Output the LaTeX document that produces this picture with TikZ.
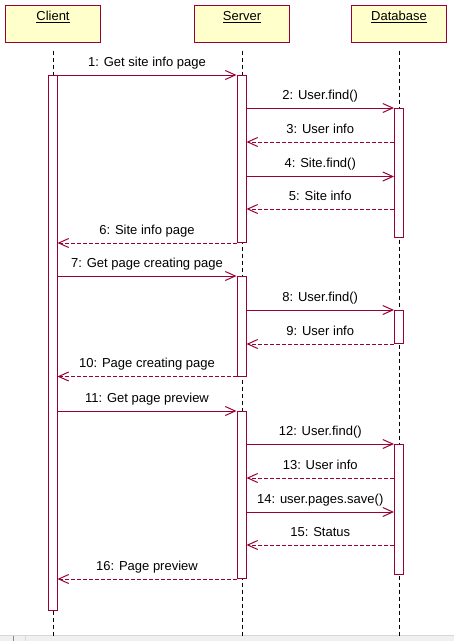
\documentclass[tikz,border=0pt]{standalone}
\usepackage{fontspec}
\setmainfont{Liberation Sans}
\usetikzlibrary{arrows.meta}
\definecolor{umlred}{RGB}{153,0,51}
\definecolor{umlfill}{RGB}{255,255,204}
\definecolor{barfill}{RGB}{240,240,240}
\definecolor{barline}{RGB}{215,215,215}
\begin{document}
\begin{tikzpicture}[x=1pt,y=-1pt,
  font=\fontsize{13}{15}\selectfont,
  objbox/.style={draw=umlred, fill=umlfill, line width=1pt, minimum width=95pt, minimum height=37pt, inner sep=0pt},
  act/.style={draw=umlred, fill=white, line width=1pt, minimum width=9pt, inner sep=0pt},
  life/.style={black, line width=1pt, dash pattern=on 4pt off 3pt},
  call/.style={umlred, line width=1pt, -{Straight Barb[length=10pt,width=9pt]}},
  reply/.style={call, dash pattern=on 4pt off 2pt},
  lbl/.style={anchor=base, inner sep=0pt, text=black, yshift=9pt},
  hdr/.style={anchor=base, inner sep=0pt, text=black},
]
\useasboundingbox (0,0) rectangle (454,641);
\fill[white] (0,0) rectangle (454,641);

% scrollbar strip at the bottom
\fill[barfill] (0,635) rectangle (454,641);
\draw[barline, line width=1pt] (0,635.5) -- (454,635.5);
\fill[black!45] (12.5,636) rectangle (13.5,641);
\fill[black!6] (14,636) rectangle (25,641);
\draw[barline, line width=1pt] (25.5,636) -- (25.5,641);

% objects
\node[objbox] (client) at (52.75,23.5) {};
\node[objbox] (server) at (242,23.5) {};
\node[objbox] (db) at (399,23.5) {};
\node[hdr] (clientlbl) at (53,20.5) {\underline{Client}};
\node[hdr] (serverlbl) at (242,20.5) {\underline{Server}};
\node[hdr] (dblbl) at (399,20.5) {\underline{Database}};

% lifelines
\coordinate (clientend) at (53,636);
\coordinate (serverend) at (242,636);
\coordinate (dbend) at (399,636);
\draw[life] ([yshift=-8pt]client.south -| clientend) -- (clientend);
\draw[life] ([yshift=-8pt]server.south) -- (serverend);
\draw[life] ([yshift=-8pt]db.south) -- (dbend);

% activations
\node[act, minimum height=535pt] (ca) at (52.5,342.5) {};
\node[act, minimum height=167pt] (sa1) at (241.5,158.5) {};
\node[act, minimum height=100pt] (sa2) at (241.5,326) {};
\node[act, minimum height=167pt] (sa3) at (241.5,494.5) {};
\node[act, minimum height=129pt] (da1) at (399,172.5) {};
\node[act, minimum height=33pt] (da2) at (399,326.5) {};
\node[act, minimum height=130pt] (da3) at (399,509) {};

% messages
\draw[call] (ca.east |- 0,75) -- (sa1.west |- 0,75) node[lbl, midway] (m1) {1: Get site info page};
\draw[call] (sa1.east |- 0,108) -- (da1.west |- 0,108) node[lbl, midway] (m2) {2: User.find()};
\draw[reply] (da1.west |- 0,142) -- (sa1.east |- 0,142) node[lbl, midway] (m3) {3: User info};
\draw[call] (sa1.east |- 0,176.5) -- (da1.west |- 0,176.5) node[lbl, midway] (m4) {4: Site.find()};
\draw[reply] (da1.west |- 0,209) -- (sa1.east |- 0,209) node[lbl, midway] (m5) {5: Site info};
\draw[reply] (sa1.west |- 0,243) -- (ca.east |- 0,243) node[lbl, midway] (m6) {6: Site info page};

\draw[call] (ca.east |- 0,276) -- (sa2.west |- 0,276) node[lbl, midway] (m7) {7: Get page creating page};
\draw[call] (sa2.east |- 0,310) -- (da2.west |- 0,310) node[lbl, midway] (m8) {8: User.find()};
\draw[reply] (da2.west |- 0,344) -- (sa2.east |- 0,344) node[lbl, midway] (m9) {9: User info};
\draw[reply] (sa2.west |- 0,376.5) -- (ca.east |- 0,376.5) node[lbl, midway] (m10) {10: Page creating page};

\draw[call] (ca.east |- 0,411) -- (sa3.west |- 0,411) node[lbl, midway] (m11) {11: Get page preview};
\draw[call] (sa3.east |- 0,444) -- (da3.west |- 0,444) node[lbl, midway] (m12) {12: User.find()};
\draw[reply] (da3.west |- 0,478) -- (sa3.east |- 0,478) node[lbl, midway] (m13) {13: User info};
\draw[call] (sa3.east |- 0,512) -- (da3.west |- 0,512) node[lbl, midway] (m14) {14: user.pages.save()};
\draw[reply] (da3.west |- 0,545) -- (sa3.east |- 0,545) node[lbl, midway] (m15) {15: Status};
\draw[reply] (sa3.west |- 0,579) -- (ca.east |- 0,579) node[lbl, midway] (m16) {16: Page preview};
\end{tikzpicture}
\end{document}
